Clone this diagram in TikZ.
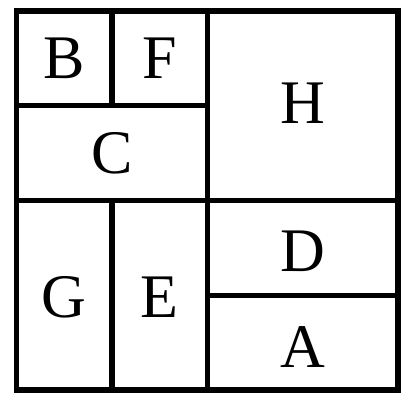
\documentclass[tikz,border=0pt]{standalone}
\usepackage{fontspec}
\setmainfont{Liberation Serif}
\usepackage{tikz}

\tikzset{
  cell/.style={draw, line width=2.7pt, inner sep=0pt, font=\fontsize{31}{31}\selectfont},
  one/.style={minimum width=47.7pt, minimum height=47.4pt},
  wide/.style={minimum width=95.4pt, minimum height=47.4pt},
  tall/.style={minimum width=47.7pt, minimum height=94.8pt},
  big/.style={minimum width=95.4pt, minimum height=94.8pt}
}

\begin{document}
\begin{tikzpicture}[x=47.7pt, y=47.4pt]
  \useasboundingbox (-0.173,-0.042) rectangle (4.104,4.116);
  % upper left quarter
  \node[cell, one]  (B) at (0.5,3.5) {B};
  \node[cell, one]  (F) at (1.5,3.5) {F};
  \node[cell, wide] (C) at (1,2.5) {C};
  % upper right quarter
  \node[cell, big, text height=20.5pt, text depth=2.4pt] (H) at (3,3) {H};
  % lower half
  \node[cell, tall, text height=22.5pt, text depth=0pt] (G) at (0.5,1) {G};
  \node[cell, tall, text height=22.5pt, text depth=0pt] (E) at (1.5,1) {E};
  \node[cell, wide, text height=23.5pt, text depth=0pt] (D) at (3,1.5) {D};
  \node[cell, wide, text height=24.5pt, text depth=0pt] (A) at (3,0.5) {A};
\end{tikzpicture}
\end{document}
